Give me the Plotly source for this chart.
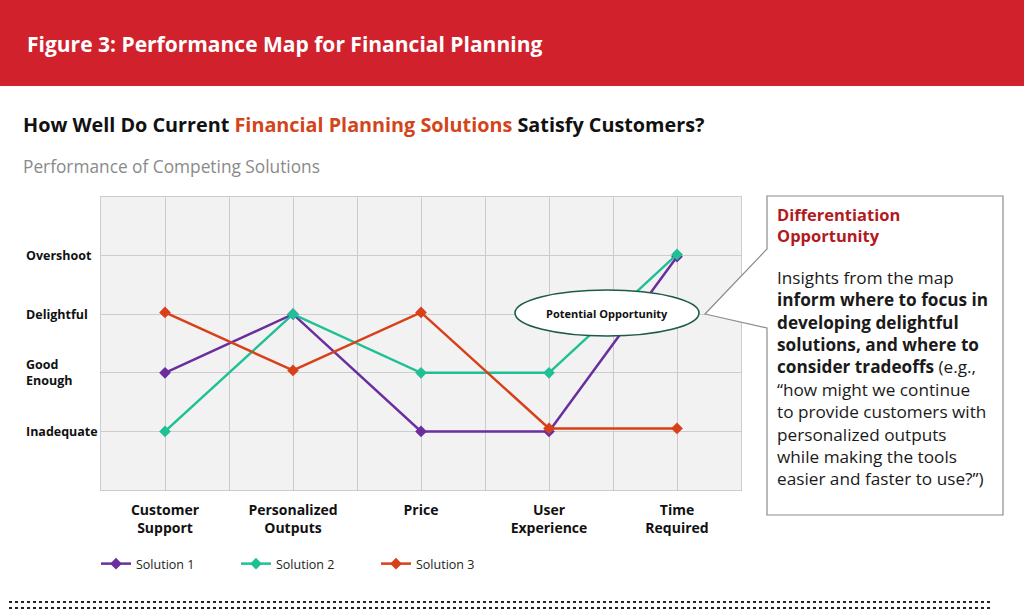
import plotly.graph_objects as go

# chart data
categories = ["Customer<br>Support", "Personalized<br>Outputs", "Price", "User<br>Experience", "Time<br>Required"]
level_names = ["Inadequate", "Good<br>Enough", "Delightful", "Overshoot"]
level_values = [1, 2, 3, 4]

solution_1 = [2, 3, 1, 1, 3.98]
solution_2 = [1, 3, 2, 2, 4.02]
solution_3 = [3.03, 2.04, 3.03, 1.05, 1.05]

series_names = ["Solution 1", "Solution 2", "Solution 3"]
series_colors = ["#6a2e9f", "#1fc095", "#d8401a"]

# page geometry (pixels) of the plotting area
W, H = 1024, 612
L, R, T, B = 101, 741, 197, 490
FONT = "Open Sans"


def px(x):
    return (x - L) / (R - L)


def py(y):
    return (B - y) / (B - T)


x_pos = list(range(len(categories)))

fig = go.Figure()
for name, vals, color in zip(series_names, [solution_1, solution_2, solution_3], series_colors):
    fig.add_trace(go.Scatter(
        x=x_pos, y=vals, name=name, mode="lines+markers",
        line=dict(color=color, width=2.5),
        marker=dict(symbol="diamond", size=9, color=color),
    ))

shapes = [
    # red header band
    dict(type="rect", xref="paper", yref="paper", x0=px(0), x1=px(W), y0=py(0), y1=py(86),
         fillcolor="#d0212d", line=dict(width=0), layer="below"),
    # callout box with pointer
    dict(type="path", xref="paper", yref="paper",
         path=(f"M {px(767)},{py(196)} L {px(1003)},{py(196)} L {px(1003)},{py(515)} "
               f"L {px(767)},{py(515)} L {px(767)},{py(328)} L {px(705)},{py(314)} "
               f"L {px(767)},{py(249)} Z"),
         fillcolor="white", line=dict(color="#8c8c8c", width=1.2)),
    # ellipse label
    dict(type="circle", xref="paper", yref="paper", x0=px(515), x1=px(699), y0=py(290), y1=py(336),
         fillcolor="white", line=dict(color="#1f5a48", width=1.6), layer="above"),
]
# dotted rules at bottom
for yy in (602, 608):
    shapes.append(dict(type="line", xref="paper", yref="paper", x0=px(9), x1=px(993),
                       y0=py(yy), y1=py(yy), line=dict(color="#222222", width=1.8, dash="dot")))

annotations = [
    dict(text="<b>Figure 3: Performance Map for Financial Planning</b>", x=px(25), y=py(44),
         font=dict(size=21, color="white")),
    dict(text="<b>How Well Do Current <span style='color:#d4441a'>Financial Planning Solutions</span> "
              "Satisfy Customers?</b>", x=px(21), y=py(124), font=dict(size=19.8, color="#111111")),
    dict(text="Performance of Competing Solutions", x=px(21), y=py(166),
         font=dict(size=17.3, color="#8a8a8a")),
    dict(text="<b>Potential Opportunity</b>", x=px(607), y=py(313), xanchor="center",
         font=dict(size=11, color="#111111")),
    dict(text="<b>Differentiation<br>Opportunity</b>", x=px(775), y=py(201), yanchor="top",
         align="left", font=dict(size=16.5, color="#b31a1e")),
    dict(text=("Insights from the map<br><b>inform where to focus in<br>developing delightful<br>"
               "solutions, and where to<br>consider tradeoffs</b> (e.g.,<br>\u201chow might we continue<br>"
               "to provide customers with<br>personalized outputs<br>while making the tools<br>"
               "easier and faster to use?\u201d)"),
         x=px(775), y=py(264), yanchor="top", align="left",
         font=dict(size=17.2, color="#1a1a1a")),
]
# left-aligned y-axis level labels
for name, v in zip(level_names, level_values):
    annotations.append(dict(text=f"<b>{name}</b>", x=px(24), xref="paper", y=v, yref="y",
                            align="left", font=dict(size=12.5, color="#111111")))

for a in annotations:
    a.setdefault("xref", "paper")
    a.setdefault("yref", "paper")
    a.setdefault("xanchor", "left")
    a.setdefault("yanchor", "middle")
    a["showarrow"] = False

fig.update_layout(
    width=W, height=H,
    margin=dict(l=L, r=W - R, t=T, b=H - B, pad=0),
    paper_bgcolor="white",
    plot_bgcolor="#f2f2f2",
    font=dict(family=FONT, color="#111111"),
    shapes=shapes,
    annotations=annotations,
    showlegend=True,
    legend=dict(orientation="h", x=px(96), y=py(549), xanchor="left", yanchor="top",
                entrywidth=95, entrywidthmode="pixels",
                font=dict(size=12.5, color="#222222"), bgcolor="rgba(0,0,0,0)"),
    xaxis=dict(
        range=[-0.5, len(categories) - 0.5], tickvals=x_pos, ticktext=[f"<b>{c}</b>" for c in categories],
        tickfont=dict(size=14, color="#111111"), ticks="", ticklabelstandoff=7,
        showgrid=True, gridcolor="#cccccc", gridwidth=1, zeroline=False,
        minor=dict(tick0=-0.5, dtick=0.5, showgrid=True, gridcolor="#cccccc", gridwidth=1),
        showline=True, mirror=True, linecolor="#cccccc", linewidth=1, fixedrange=True,
    ),
    yaxis=dict(
        range=[0, 5], dtick=1, showticklabels=False, ticks="",
        showgrid=True, gridcolor="#cccccc", gridwidth=1, zeroline=False,
        showline=True, mirror=True, linecolor="#cccccc", linewidth=1, fixedrange=True,
    ),
)

fig.write_html("out.html", config={"displayModeBar": False},
               post_script="document.body.style.margin='0px';")
